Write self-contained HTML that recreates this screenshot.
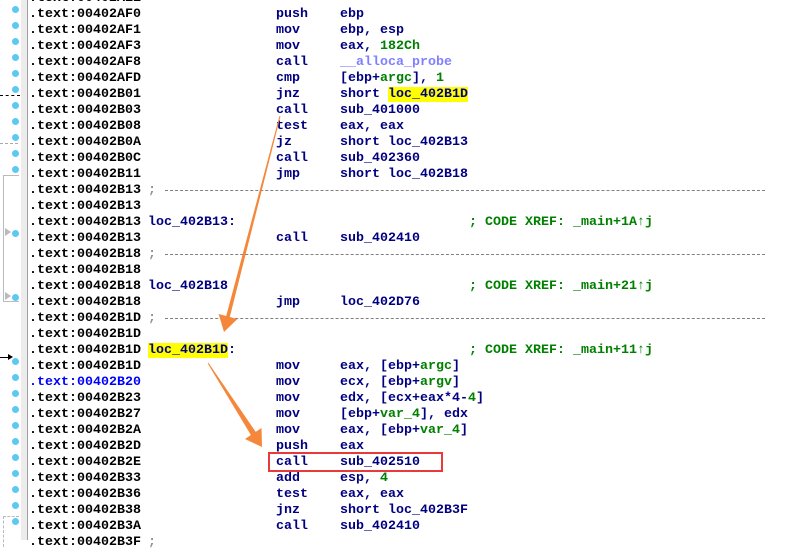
<!DOCTYPE html>
<html><head><meta charset="utf-8">
<style>
html,body{margin:0;padding:0;}
body{width:798px;height:540px;overflow:hidden;background:#fff;position:relative;font-family:"Liberation Mono",monospace;font-size:13.33px;font-weight:bold;}
.r{position:absolute;left:0;height:16px;line-height:16px;width:798px;white-space:pre;margin-top:2px;}
.r span{position:absolute;top:0;}
.a{left:29px;color:#000;}
.l{left:148px;color:#000080;}
.m{left:276px;color:#000080;}
.o{left:340px;color:#000080;}
.c{left:469px;color:#008000;}
.g{color:#008000;}
.p{color:#8080ff;}
.y{background:#ffff00;}
.dot{position:absolute;left:12px;width:7px;height:7px;border-radius:50%;background:#5ec8f5;}
.sep{position:absolute;left:165px;width:600px;top:7px;border-top:1px dashed #808080;height:0;}
.semi{left:148px;color:#909090;}
</style></head><body>
<div style="position:absolute;left:21px;top:0;width:6px;height:540px;background:#ececec"></div>
<div style="position:absolute;left:27px;top:0;width:1px;height:540px;background:#a0a0a0"></div>
<div style="position:absolute;left:0;top:95px;width:20px;border-top:1px dashed #000"></div>
<div style="position:absolute;left:0;top:143px;width:18px;border-top:1px dashed #aaa"></div>
<div style="position:absolute;left:3px;top:175px;width:15px;height:125px;border:1px solid #bbb;border-right:none"></div>
<div style="position:absolute;left:5px;top:228px;width:0;height:0;border-left:6px solid #bbb;border-top:4px solid transparent;border-bottom:4px solid transparent"></div>
<div style="position:absolute;left:5px;top:292px;width:0;height:0;border-left:6px solid #bbb;border-top:4px solid transparent;border-bottom:4px solid transparent"></div>
<div style="position:absolute;left:0;top:357px;width:10px;border-top:1px solid #000"></div>
<div style="position:absolute;left:8px;top:354px;width:0;height:0;border-left:5px solid #000;border-top:3px solid transparent;border-bottom:3px solid transparent"></div>
<div style="position:absolute;left:3px;top:516px;width:15px;height:30px;border:1px dashed #bbb;border-right:none;border-bottom:none"></div>

<div class="r" style="top:-11px"><span class="a">.text:00402AEE</span></div>
<div class="r" style="top:5px"><span class="a">.text:00402AF0</span><span class="m">push</span><span class="o">ebp</span></div>
<div class="r" style="top:21px"><span class="a">.text:00402AF1</span><span class="m">mov</span><span class="o">ebp, esp</span></div>
<div class="r" style="top:37px"><span class="a">.text:00402AF3</span><span class="m">mov</span><span class="o">eax, <b class="g">182Ch</b></span></div>
<div class="r" style="top:53px"><span class="a">.text:00402AF8</span><span class="m">call</span><span class="o p">__alloca_probe</span></div>
<div class="r" style="top:69px"><span class="a">.text:00402AFD</span><span class="m">cmp</span><span class="o">[ebp+<b class="g">argc</b>], <b class="g">1</b></span></div>
<div class="r" style="top:85px"><span class="a">.text:00402B01</span><span class="m">jnz</span><span class="o">short <b class="y">loc_402B1D</b></span></div>
<div class="r" style="top:101px"><span class="a">.text:00402B03</span><span class="m">call</span><span class="o">sub_401000</span></div>
<div class="r" style="top:117px"><span class="a">.text:00402B08</span><span class="m">test</span><span class="o">eax, eax</span></div>
<div class="r" style="top:133px"><span class="a">.text:00402B0A</span><span class="m">jz</span><span class="o">short loc_402B13</span></div>
<div class="r" style="top:149px"><span class="a">.text:00402B0C</span><span class="m">call</span><span class="o">sub_402360</span></div>
<div class="r" style="top:165px"><span class="a">.text:00402B11</span><span class="m">jmp</span><span class="o">short loc_402B18</span></div>
<div class="r" style="top:181px"><span class="a">.text:00402B13</span><span class="semi">;</span><i class="sep"></i></div>
<div class="r" style="top:197px"><span class="a">.text:00402B13</span></div>
<div class="r" style="top:213px"><span class="a">.text:00402B13</span><span class="l">loc_402B13:</span><span class="c">; CODE XREF: _main+1A↑j</span></div>
<div class="r" style="top:229px"><span class="a">.text:00402B13</span><span class="m">call</span><span class="o">sub_402410</span></div>
<div class="r" style="top:245px"><span class="a">.text:00402B18</span><span class="semi">;</span><i class="sep"></i></div>
<div class="r" style="top:261px"><span class="a">.text:00402B18</span></div>
<div class="r" style="top:277px"><span class="a">.text:00402B18</span><span class="l">loc_402B18</span><span class="c">; CODE XREF: _main+21↑j</span></div>
<div class="r" style="top:293px"><span class="a">.text:00402B18</span><span class="m">jmp</span><span class="o">loc_402D76</span></div>
<div class="r" style="top:309px"><span class="a">.text:00402B1D</span><span class="semi">;</span><i class="sep"></i></div>
<div class="r" style="top:325px"><span class="a">.text:00402B1D</span></div>
<div class="r" style="top:341px"><span class="a">.text:00402B1D</span><span class="l"><b class="y">loc_402B1D</b>:</span><span class="c">; CODE XREF: _main+11↑j</span></div>
<div class="r" style="top:357px"><span class="a">.text:00402B1D</span><span class="m">mov</span><span class="o">eax, [ebp+<b class="g">argc</b>]</span></div>
<div class="r" style="top:373px"><span class="a" style="color:#0000ff">.text:00402B20</span><span class="m">mov</span><span class="o">ecx, [ebp+<b class="g">argv</b>]</span></div>
<div class="r" style="top:389px"><span class="a">.text:00402B23</span><span class="m">mov</span><span class="o">edx, [ecx+eax*4-<b class="g">4</b>]</span></div>
<div class="r" style="top:405px"><span class="a">.text:00402B27</span><span class="m">mov</span><span class="o">[ebp+<b class="g">var_4</b>], edx</span></div>
<div class="r" style="top:421px"><span class="a">.text:00402B2A</span><span class="m">mov</span><span class="o">eax, [ebp+<b class="g">var_4</b>]</span></div>
<div class="r" style="top:437px"><span class="a">.text:00402B2D</span><span class="m">push</span><span class="o">eax</span></div>
<div class="r" style="top:453px"><span class="a">.text:00402B2E</span><span class="m">call</span><span class="o">sub_402510</span></div>
<div class="r" style="top:469px"><span class="a">.text:00402B33</span><span class="m">add</span><span class="o">esp, <b class="g">4</b></span></div>
<div class="r" style="top:485px"><span class="a">.text:00402B36</span><span class="m">test</span><span class="o">eax, eax</span></div>
<div class="r" style="top:501px"><span class="a">.text:00402B38</span><span class="m">jnz</span><span class="o">short loc_402B3F</span></div>
<div class="r" style="top:517px"><span class="a">.text:00402B3A</span><span class="m">call</span><span class="o">sub_402410</span></div>
<div class="r" style="top:533px"><span class="a">.text:00402B3F</span><span class="semi">;</span></div>

<i class="dot" style="top:6px"></i><i class="dot" style="top:22px"></i><i class="dot" style="top:38px"></i><i class="dot" style="top:54px"></i><i class="dot" style="top:70px"></i><i class="dot" style="top:86px"></i><i class="dot" style="top:102px"></i><i class="dot" style="top:118px"></i><i class="dot" style="top:134px"></i><i class="dot" style="top:150px"></i><i class="dot" style="top:166px"></i>
<i class="dot" style="top:230px"></i><i class="dot" style="top:294px"></i>
<i class="dot" style="top:358px"></i><i class="dot" style="top:374px"></i><i class="dot" style="top:390px"></i><i class="dot" style="top:406px"></i><i class="dot" style="top:422px"></i><i class="dot" style="top:438px"></i><i class="dot" style="top:454px"></i><i class="dot" style="top:470px"></i><i class="dot" style="top:486px"></i><i class="dot" style="top:502px"></i><i class="dot" style="top:518px"></i>

<div style="position:absolute;left:268px;top:452px;width:171px;height:16px;border:2px solid #e83a3a"></div>

<svg width="798" height="540" style="position:absolute;left:0;top:0">
<polygon fill="#f4873a" points="280.5,116.1 279.5,115.9 226.2,316 218.6,314 224,332 237.4,319 229.8,317"/>
<polygon fill="#f4873a" points="208.4,362.7 207.6,363.3 250.9,435 245,439 262,447 261.5,428 255.7,431.9"/>
</svg>
</body></html>
